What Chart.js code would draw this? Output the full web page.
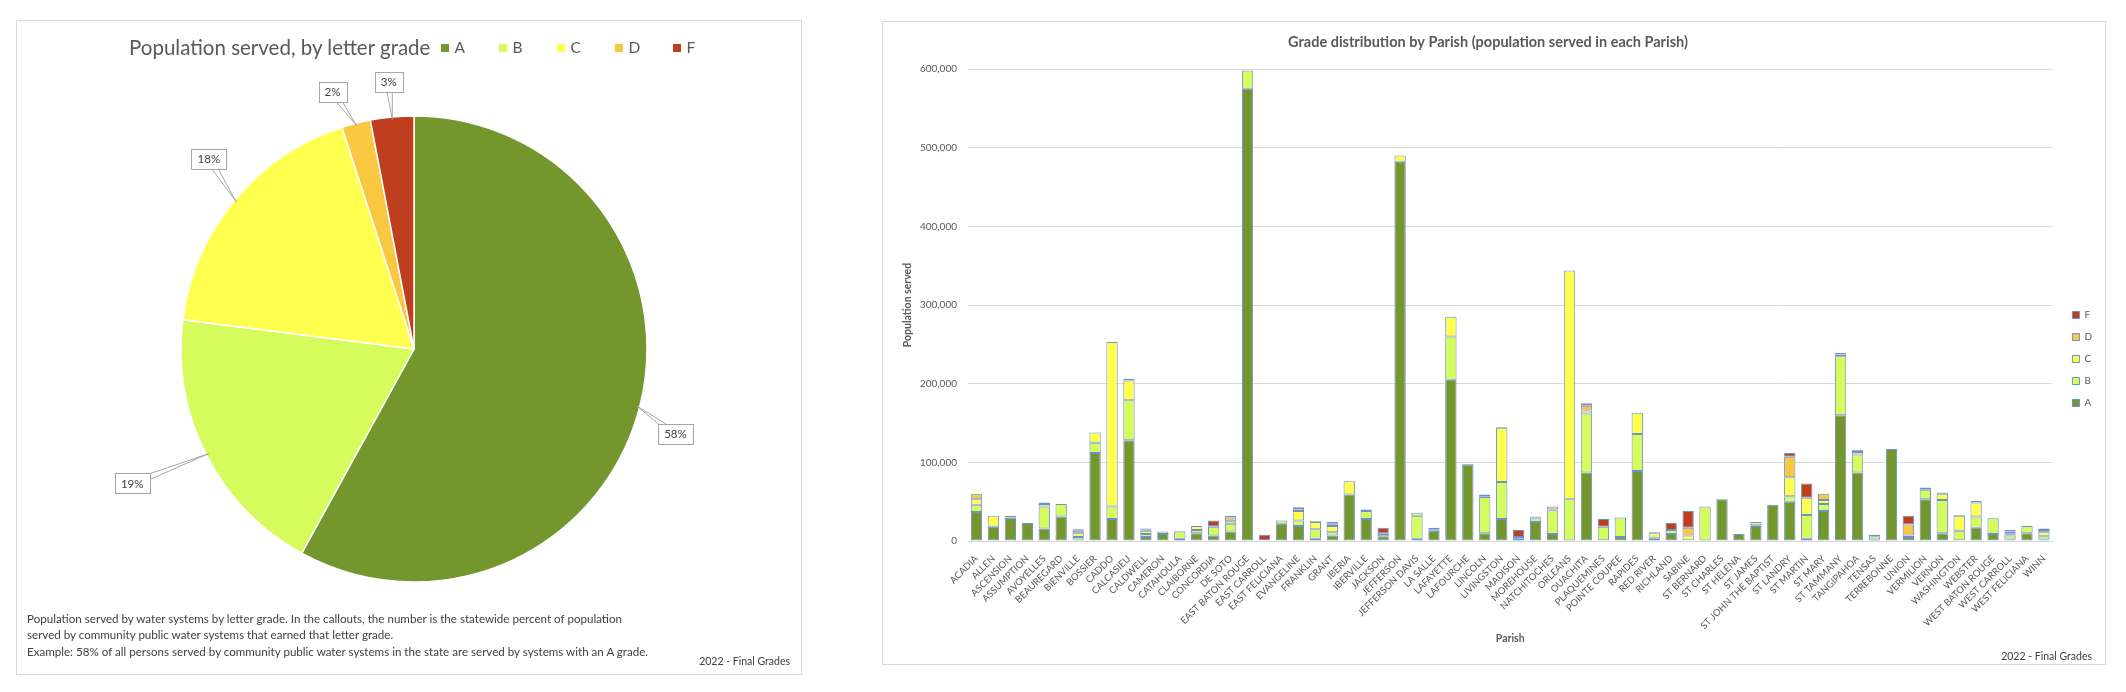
<!DOCTYPE html>
<html>
<head>
<meta charset="utf-8">
<script src="https://cdn.jsdelivr.net/npm/chart.js@4.4.1/dist/chart.umd.min.js"></script>
<style>
html,body{margin:0;padding:0;background:#fff;}
body{width:2126px;height:692px;position:relative;overflow:hidden;font-family:Lato,sans-serif;color:#595959;}
.panel{position:absolute;border:1px solid #d9d9d9;box-sizing:border-box;}
.wrap{position:absolute;}
#pieHead{position:absolute;left:129px;top:35px;display:flex;align-items:center;white-space:nowrap;}
#pieTitle{font-size:20.5px;line-height:25px;}
#pieLegend{display:flex;margin-left:11px;}
.lg{width:58px;display:flex;align-items:center;font-size:15.5px;line-height:25px;}
.lg i{display:inline-block;width:8px;height:8px;margin-right:5px;}
#note{position:absolute;left:27px;top:611px;font-size:11.6px;line-height:16.4px;white-space:nowrap;color:#404040;}
.stamp{position:absolute;font-size:10.5px;line-height:14px;white-space:nowrap;color:#404040;}
</style>
</head>
<body>
<div class="panel" style="left:16px;top:20px;width:786px;height:655px;"></div>
<div class="panel" style="left:882px;top:21px;width:1224px;height:644px;"></div>

<div class="wrap" style="left:16px;top:20px;width:786px;height:655px;"><canvas id="pie"></canvas></div>
<div class="wrap" style="left:882px;top:21px;width:1224px;height:644px;"><canvas id="bar"></canvas></div>

<div id="pieHead"><span id="pieTitle">Population served, by letter grade</span><span id="pieLegend"></span></div>
<div id="note">Population served by water systems by letter grade. In the callouts, the number is the statewide percent of population<br>served by community public water systems that earned that letter grade.<br>Example: 58% of all persons served by community public water systems in the state are served by systems with an A grade.</div>
<div class="stamp" style="right:1336px;top:654px;">2022 - Final Grades</div>
<div class="stamp" style="right:34px;top:649px;">2022 - Final Grades</div>

<script>
// ---------- DATA ----------
const grades = ["A", "B", "C", "D", "F"];
const pieShare = [58, 19, 18, 2, 3];

const parishes = ["ACADIA","ALLEN","ASCENSION","ASSUMPTION","AVOYELLES","BEAUREGARD","BIENVILLE","BOSSIER","CADDO","CALCASIEU",
"CALDWELL","CAMERON","CATAHOULA","CLAIBORNE","CONCORDIA","DE SOTO","EAST BATON ROUGE","EAST CARROLL","EAST FELICIANA","EVANGELINE",
"FRANKLIN","GRANT","IBERIA","IBERVILLE","JACKSON","JEFFERSON","JEFFERSON DAVIS","LA SALLE","LAFAYETTE","LAFOURCHE",
"LINCOLN","LIVINGSTON","MADISON","MOREHOUSE","NATCHITOCHES","ORLEANS","OUACHITA","PLAQUEMINES","POINTE COUPEE","RAPIDES",
"RED RIVER","RICHLAND","SABINE","ST BERNARD","ST CHARLES","ST HELENA","ST JAMES","ST JOHN THE BAPTIST","ST LANDRY","ST MARTIN",
"ST MARY","ST TAMMANY","TANGIPAHOA","TENSAS","TERREBONNE","UNION","VERMILION","VERNON","WASHINGTON","WEBSTER",
"WEST BATON ROUGE","WEST CARROLL","WEST FELICIANA","WINN"];

const gradeA = [37000,18000,30000,23000,16000,31000,2000,112000,28000,128000,
5000,9000,3000,10000,7000,12000,575000,1000,22000,19000,
3000,7000,59000,28000,6000,482000,3000,13000,205000,97000,
10000,28000,3000,24000,9000,0,87000,1000,5000,89000,
3000,9000,1000,0,53000,9000,19000,46000,50000,3000,
38000,160000,87000,2000,117000,5000,53000,10000,1000,17000,
9000,2000,10000,2000];
const gradeB = [9000,0,2000,0,28000,16000,3000,13000,16000,51000,
4000,3000,9000,4000,11000,10000,23000,0,4000,7000,
12000,4000,0,10000,3000,0,29000,2000,55000,1000,
46000,47000,2000,5000,30000,53000,75000,17000,25000,47000,
1000,5000,0,44000,0,0,1000,0,7000,30000,
9000,75000,23000,4000,0,2000,12000,42000,12000,14000,
20000,5000,9000,4000];
const gradeC = [7000,14000,0,0,3000,0,5000,13000,209000,25000,
4000,0,1000,5000,0,3000,0,0,0,12000,
9000,8000,17000,2000,1000,8000,4000,2000,25000,0,
1000,69000,0,1000,1000,291000,4000,0,0,27000,
6000,0,6000,0,0,0,4000,0,24000,22000,
5000,2000,3000,0,0,0,1000,8000,19000,18000,
0,3000,0,5000];
const gradeD = [7000,0,0,0,2000,0,3000,0,0,2000,
2000,0,0,0,1000,5000,0,0,0,4000,
1000,3000,0,0,0,0,0,0,0,0,
2000,1000,0,1000,4000,0,6000,0,0,0,
1000,0,10000,0,0,0,0,0,26000,0,
8000,2000,3000,2000,0,14000,2000,1500,1000,2000,
0,2000,0,3000];
const gradeF = [0,0,0,0,0,0,2000,0,0,0,
1000,0,0,0,7000,2000,0,7000,0,1000,
0,2000,0,0,7000,0,0,0,0,0,
0,0,9000,0,0,0,3000,10000,0,0,
0,9000,21000,0,0,0,0,0,5000,18000,
0,0,0,0,0,11000,0,0,0,0,
0,2000,0,2000];

// ---------- STYLE ----------
const gradeColors = ["#73972d", "#d5fb5c", "#ffff50", "#f9c840", "#be3e1e"];
const barOutline = "#6d8fd0";
const textGrey = "#595959";

Chart.defaults.font.family = "Lato, sans-serif";
Chart.defaults.color = textGrey;

// pie legend (same row as the title)
const lgBox = document.getElementById('pieLegend');
grades.forEach((g, i) => {
  const s = document.createElement('span');
  s.className = 'lg';
  const b = document.createElement('i');
  b.style.background = gradeColors[i];
  s.appendChild(b);
  s.appendChild(document.createTextNode(g));
  lgBox.appendChild(s);
});

// callout labels for the pie (placed from each slice's own geometry)
const calloutPlugin = {
  id: 'callouts',
  afterDatasetsDraw(chart, args, opts) {
    const ctx = chart.ctx;
    const meta = chart.getDatasetMeta(0);
    const vals = chart.data.datasets[0].data;
    const total = vals.reduce((a, b) => a + b, 0);
    ctx.save();
    ctx.font = '11.5px Lato, sans-serif';
    meta.data.forEach((arc, i) => {
      const p = arc.getProps(['x', 'y', 'startAngle', 'endAngle', 'outerRadius'], true);
      const mid = (p.startAngle + p.endAngle) / 2;
      const lab = mid + opts.turn[i] * Math.PI / 180;
      const k = opts.distance[i];
      const cx = p.x + Math.cos(lab) * p.outerRadius * k;
      const cy = p.y + Math.sin(lab) * p.outerRadius * k;
      const ax = p.x + Math.cos(mid) * p.outerRadius * 0.99;
      const ay = p.y + Math.sin(mid) * p.outerRadius * 0.99;
      const text = Math.round(vals[i] / total * 100) + '%';
      const w = Math.round(ctx.measureText(text).width + 12), h = 20;
      const dx = ax - cx, dy = ay - cy, len = Math.hypot(dx, dy);
      const nx = -dy / len * 3.5, ny = dx / len * 3.5;
      ctx.beginPath();
      ctx.moveTo(cx + nx, cy + ny);
      ctx.lineTo(ax, ay);
      ctx.lineTo(cx - nx, cy - ny);
      ctx.closePath();
      ctx.fillStyle = '#fff';
      ctx.fill();
      ctx.strokeStyle = '#a6a6a6';
      ctx.lineWidth = 1;
      ctx.stroke();
      const bx = Math.round(cx - w / 2) + 0.5, by = Math.round(cy - h / 2) + 0.5;
      ctx.fillRect(bx, by, w, h);
      ctx.strokeRect(bx, by, w, h);
      ctx.fillStyle = '#404040';
      ctx.textAlign = 'center';
      ctx.textBaseline = 'middle';
      ctx.fillText(text, cx, cy + 0.5);
    });
    ctx.restore();
  }
};

new Chart(document.getElementById('pie'), {
  type: 'pie',
  data: {
    labels: grades,
    datasets: [{
      data: pieShare,
      backgroundColor: gradeColors,
      borderColor: '#ffffff',
      borderWidth: 1.5,
      radius: 233
    }]
  },
  options: {
    responsive: true,
    maintainAspectRatio: false,
    animation: false,
    layout: { padding: { left: 10, right: 0, top: 3, bottom: 0 } },
    plugins: {
      legend: { display: false },
      tooltip: { enabled: false },
      callouts: {
        distance: [1.18, 1.34, 1.2, 1.156, 1.15],
        turn: [3.6, 1.5, 3.2, -3.2, 0]
      }
    }
  },
  plugins: [calloutPlugin]
});

// move the bar legend next to the plot like the original
const legendNudge = {
  id: 'legendNudge',
  afterLayout(chart, args, opts) {
    const l = chart.legend;
    if (!l) return;
    l.left += opts.dx; l.right += opts.dx;
    l.top += opts.dy; l.bottom += opts.dy;
  }
};

const gradeSeries = [gradeA, gradeB, gradeC, gradeD, gradeF];

new Chart(document.getElementById('bar'), {
  type: 'bar',
  data: {
    labels: parishes,
    datasets: grades.map((g, i) => ({
      label: g,
      data: gradeSeries[i],
      backgroundColor: gradeColors[i],
      borderColor: barOutline,
      borderWidth: 1,
      borderSkipped: false,
      barPercentage: 0.67,
      categoryPercentage: 1
    }))
  },
  options: {
    responsive: true,
    maintainAspectRatio: false,
    animation: false,
    layout: { padding: { left: 0, right: 12, top: 0, bottom: 0 } },
    plugins: {
      title: {
        display: true,
        text: 'Grade distribution by Parish (population served in each Parish)',
        color: textGrey,
        font: { size: 14.5, weight: 'bold' },
        padding: { top: 13, bottom: 17.6 }
      },
      legend: {
        position: 'right',
        reverse: true,
        labels: {
          boxWidth: 7,
          boxHeight: 7,
          padding: 12,
          color: textGrey,
          font: { size: 10 }
        }
      },
      tooltip: { enabled: false },
      legendNudge: { dx: 8, dy: 16 }
    },
    scales: {
      x: {
        stacked: true,
        grid: { display: false },
        border: { color: '#d9d9d9' },
        ticks: {
          autoSkip: false,
          minRotation: 45,
          maxRotation: 45,
          padding: 4,
          color: textGrey,
          font: { size: 9.5 }
        },
        title: {
          display: true,
          text: 'Parish',
          color: textGrey,
          font: { size: 10.5, weight: 'bold' },
          padding: { top: 0, bottom: 19.7 }
        },
        afterFit(s) { s.height = 124; }
      },
      y: {
        stacked: true,
        min: 0,
        max: 600000,
        grid: { color: '#d9d9d9', drawTicks: false },
        border: { display: false },
        ticks: {
          stepSize: 100000,
          padding: 11,
          color: textGrey,
          font: { size: 10 },
          callback: v => v.toLocaleString('en-US')
        },
        title: {
          display: true,
          text: 'Population served',
          color: textGrey,
          font: { size: 10.5, weight: 'bold' },
          padding: { top: 19.7, bottom: 0 }
        },
        afterFit(s) { s.width = 86; }
      }
    }
  },
  plugins: [legendNudge]
});
</script>
</body>
</html>
